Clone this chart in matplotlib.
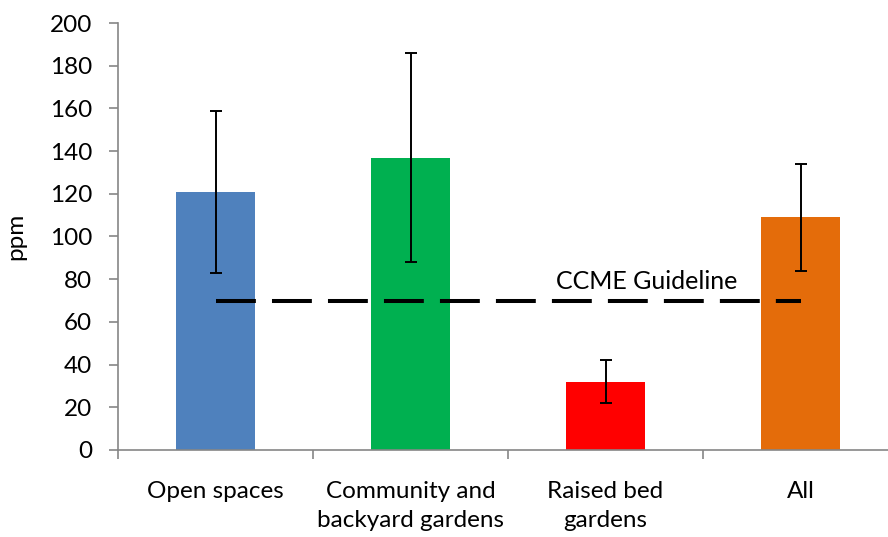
import numpy as np
import matplotlib
matplotlib.use("Agg")
import matplotlib.pyplot as plt

plt.rcParams['font.family'] = ['Lato', 'DejaVu Sans']

# Datos
categorias = ['Open spaces', 'Community and\nbackyard gardens', 'Raised bed\ngardens', 'All']
valores = [121, 137, 32, 109]
err_bajo = [83, 88, 22, 84]
err_alto = [159, 186, 42, 134]
colores = ['#4F81BD', '#00B050', '#FF0000', '#E46C0A']
guia = 70

x = np.arange(len(categorias))
yerr = [np.array(valores) - np.array(err_bajo), np.array(err_alto) - np.array(valores)]

fs = 17.5

fig = plt.figure(figsize=(8.88, 5.37), dpi=100)
ax = fig.add_axes([118/888, 87/537, 780/888, 427/537])

ax.bar(x, valores, width=0.405, color=colores, zorder=2)
ax.errorbar(x, valores, yerr=yerr, fmt='none', ecolor='black', elinewidth=1.4,
            capsize=4.5, capthick=1.4, zorder=3)

# Línea de guía CCME
ax.plot([x[0], x[-1]], [guia, guia], color='black', lw=2.9, dashes=(9.9, 4.0),
        solid_capstyle='butt', dash_capstyle='butt', zorder=4)
ax.text(2.21, 73.5, 'CCME Guideline', ha='center', va='bottom', fontsize=18)

ax.set_xlim(-0.5, len(categorias) - 0.5)
ax.set_ylim(0, 200)
ax.set_yticks(np.arange(0, 201, 20))
ax.set_xticks(np.arange(-0.5, len(categorias), 1))
ax.set_xticklabels([])
ax.tick_params(axis='x', which='minor', length=0, pad=22, labelsize=fs)
ax.tick_params(axis='x', which='major', length=6.5, width=1.2, color='#868686', direction='out')
ax.tick_params(axis='y', length=6.5, width=1.2, color='#868686', direction='out', labelsize=fs, pad=12)
ax.set_xticks(x, minor=True)
ax.set_xticklabels(categorias, minor=True, linespacing=1.5)

for lado in ['top', 'right']:
    ax.spines[lado].set_visible(False)
for lado in ['left', 'bottom']:
    ax.spines[lado].set_color('#868686')
    ax.spines[lado].set_linewidth(1.2)

ax.set_ylabel('ppm', fontsize=fs, labelpad=17)

fig.savefig('out.png', dpi=100)
